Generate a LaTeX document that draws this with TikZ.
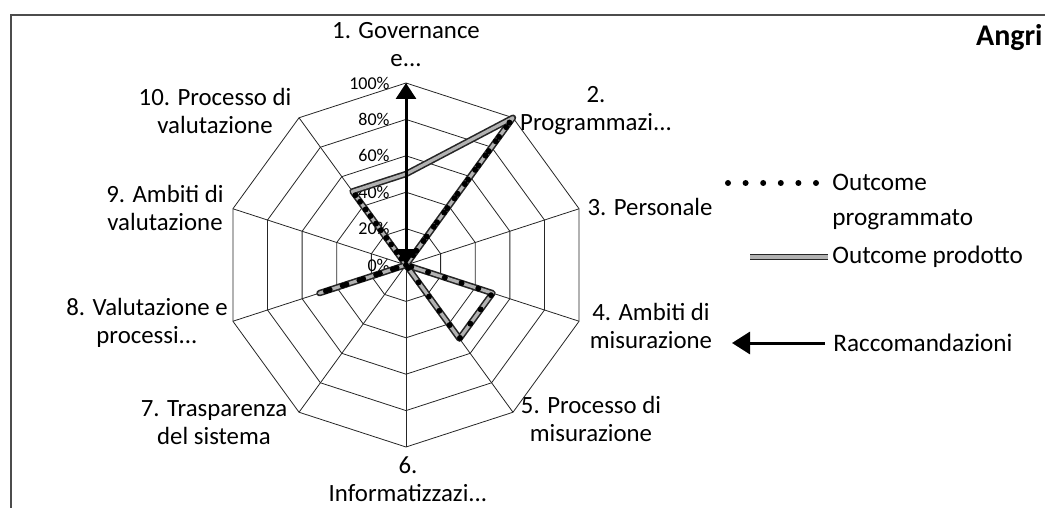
\documentclass[tikz,border=0pt]{standalone}
\usepackage{fontspec}
\setmainfont{Carlito}
\usepackage{tikz}
\usetikzlibrary{arrows.meta,positioning}

\begin{document}
\begin{tikzpicture}[x=0.5pt,y=-0.5pt,
  axislabel/.style={font=\fontsize{12.4}{14}\selectfont,align=center,inner sep=0pt},
  legendtext/.style={font=\fontsize{12.6}{17.5}\selectfont,align=left,anchor=west,inner sep=2pt},
  pct/.style={font=\fontsize{9}{10}\selectfont,anchor=east,inner sep=0pt},
  gridline/.style={black!85,line width=0.4pt},
  programmato/.style={line width=3pt,dash pattern=on 0pt off 8.8pt,line cap=round},
  prodotto/.style={draw=black!85,line width=0.8pt,double=black!30,double distance=1.6pt,line join=round},
  racc/.style={line width=1.5pt}]
\useasboundingbox (0,0) rectangle (1045,508);
% frame of the scanned chart
\draw[black!70,line width=0.6pt] (1045,15) -- (11,15) -- (11,508);

\coordinate (c) at (406,265);
\foreach \k in {0,...,9}
  \coordinate (v\k) at ({406+182*sin(36*\k)},{265-182*cos(36*\k)});
% rings at 20%, 40%, ... 100%
\foreach \r in {1,...,5}
  \draw[gridline] (406,{265-36.4*\r})
    \foreach \k in {1,...,9} {-- ({406+36.4*\r*sin(36*\k)},{265-36.4*\r*cos(36*\k)})} -- cycle;
\foreach \k in {0,...,9}
  \draw[gridline] (c) -- (v\k);
\foreach \p/\t in {0/0\%,1/20\%,2/40\%,3/60\%,4/80\%,5/100\%}
  \node[pct] (pct\p) at (390,{265-36.4*\p}) {\t};

% Now the two outcome series
\foreach \v [count=\k from 0] in {.5,1,0,.5,.5,0,0,.5,0,.5}
  \coordinate (b\k) at ({406+182*\v*sin(36*\k)},{265-182*\v*cos(36*\k)});
\foreach \v [count=\k from 0] in {0,1,0,.5,.5,0,0,.5,0,.5}
  \coordinate (a\k) at ({406+182*\v*sin(36*\k)},{265-182*\v*cos(36*\k)});
\draw[prodotto] (b0) \foreach \k in {1,...,9} {-- (b\k)} -- cycle;
\draw[programmato] (a0) \foreach \k in {1,...,9} {-- (a\k)} -- cycle;
\draw[racc,{Triangle[width=10pt,length=8pt]}-{Triangle[width=10pt,length=8pt]}] (c) -- (v0);

% axis names
\node[axislabel] (l1) at (406,45) {1. Governance\\e...};
\node[axislabel] (l2) at (596,111) {2.\\Programmazi...};
\node[axislabel] (l3) at (650,207) {3. Personale};
\node[axislabel] (l4) at (651,326) {4. Ambiti di\\misurazione};
\node[axislabel] (l5) at (591,419) {5. Processo di\\misurazione};
\node[axislabel] (l6) at (408,479) {6.\\Informatizzazi...};
\node[axislabel] (l7) at (214,423) {7. Trasparenza\\del sistema};
\node[axislabel] (l8) at (147,323) {8. Valutazione e\\processi...};
\node[axislabel] (l9) at (165,208) {9. Ambiti di\\valutazione};
\node[axislabel] (l10) at (215,111) {10. Processo di\\valutazione};

\node[font=\fontsize{15}{18}\selectfont\bfseries,anchor=east,inner sep=0pt] (title) at (1043,38) {Angri};

% legend
\node[legendtext] (lprog) at (828,202) {Outcome\\programmato};
\coordinate (lproga) at (728,183);
\coordinate (lprogb) at (819,183);
\draw[programmato] (lproga) -- (lprogb);
\node[legendtext] (lprod) at (828,257) {Outcome prodotto};
\coordinate (lproda) at (750,257);
\draw[prodotto] (lproda) -- (lprod.west);
\node[legendtext,inner sep=4pt] (lracc) at (825,343) {Raccomandazioni};
\coordinate (lracca) at (732,343);
\draw[racc,{Triangle[width=11pt,length=9pt]}-] (lracca) -- (lracc.west);
\end{tikzpicture}
\end{document}
